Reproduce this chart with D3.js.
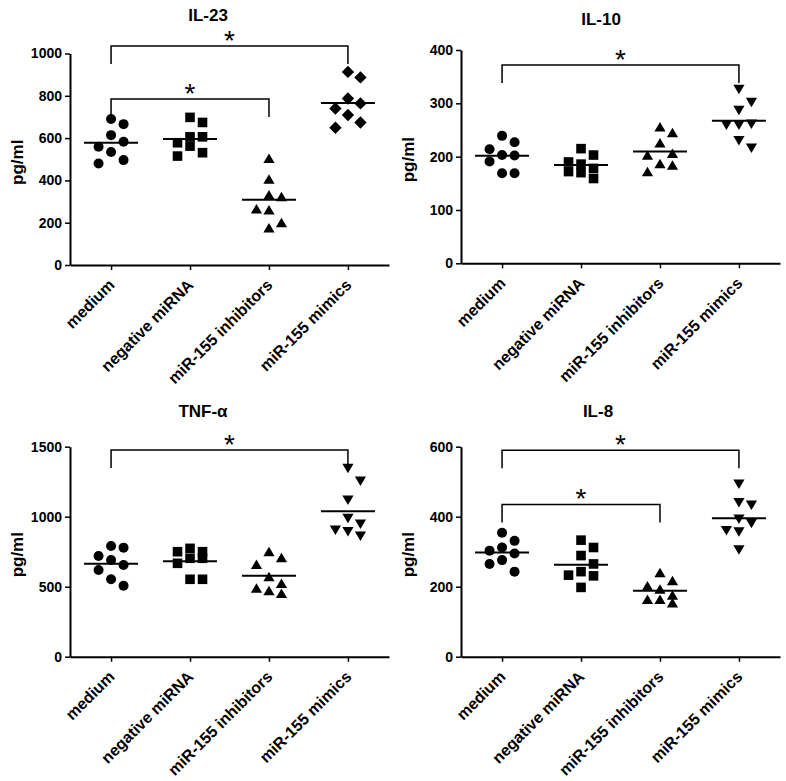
<!DOCTYPE html>
<html>
<head>
<meta charset="utf-8">
<script src="https://cdn.jsdelivr.net/npm/d3@7"></script>
<style>
  html, body { margin: 0; padding: 0; background: #fff; }
  svg { display: block; }
  text { font-family: "Liberation Sans", Arial, sans-serif; fill: #000; }
</style>
</head>
<body>
<script>
// ---------------- DATA ----------------
const categories = ["medium", "negative miRNA", "miR-155 inhibitors", "miR-155 mimics"];

const il23Values = [
  [690, 666, 614, 583, 559, 534, 496, 480],
  [698, 674, 606, 606, 578, 562, 531, 515],
  [504, 406, 331, 323, 265, 260, 200, 176],
  [913, 887, 787, 764, 740, 709, 674, 649]
];
const il10Values = [
  [239, 227, 214, 203, 202, 191, 169, 169],
  [215, 203, 190, 186, 178, 172, 170, 159],
  [256, 245, 226, 206, 203, 187, 184, 172],
  [326, 302, 287, 261, 259, 259, 230, 216]
];
const tnfValues = [
  [791, 779, 719, 691, 655, 619, 553, 507],
  [774, 750, 750, 703, 703, 667, 553, 553],
  [750, 707, 660, 571, 524, 489, 471, 453],
  [1346, 1255, 1119, 989, 948, 905, 893, 862]
];
const il8Values = [
  [354, 331, 312, 303, 295, 276, 265, 243],
  [333, 312, 289, 265, 243, 233, 231, 198],
  [240, 217, 202, 193, 176, 164, 164, 154],
  [493, 440, 433, 393, 381, 360, 357, 305]
];

const il23Ticks = [0, 200, 400, 600, 800, 1000];
const il10Ticks = [0, 100, 200, 300, 400];
const tnfTicks = [0, 500, 1000, 1500];
const il8Ticks = [0, 200, 400, 600];

// significance brackets: [from, to, level (pg/ml)]
const il23Brackets = [["medium", "miR-155 mimics", 1035], ["medium", "miR-155 inhibitors", 785]];
const il10Brackets = [["medium", "miR-155 mimics", 372]];
const tnfBrackets = [["medium", "miR-155 mimics", 1476]];
const il8Brackets = [["medium", "miR-155 mimics", 590], ["medium", "miR-155 inhibitors", 435]];

// ---------------- LAYOUT ----------------
const W = 786, H = 781;
const panels = [
  { title: "IL-23", values: il23Values, ticks: il23Ticks, brackets: il23Brackets,
    ox: 70, y0: 265, y1: 53.5, tx: 208, ty: 21, shapes: ["circle", "square", "up", "diamond"] },
  { title: "IL-10", values: il10Values, ticks: il10Ticks, brackets: il10Brackets,
    ox: 461, y0: 263.3, y1: 50, tx: 601, ty: 25, shapes: ["circle", "square", "up", "down"] },
  { title: "TNF-α", values: tnfValues, ticks: tnfTicks, brackets: tnfBrackets,
    ox: 70, y0: 656.7, y1: 446.7, tx: 203, ty: 417, shapes: ["circle", "square", "up", "down"] },
  { title: "IL-8", values: il8Values, ticks: il8Ticks, brackets: il8Brackets,
    ox: 461, y0: 656.7, y1: 446.7, tx: 598, ty: 417, shapes: ["circle", "square", "up", "down"] }
];

const shapePath = {
  circle: "M5,0A5,5 0 1,1 -5,0A5,5 0 1,1 5,0Z",
  square: "M-4.8,-4.8H4.8V4.8H-4.8Z",
  up: "M0,-4.9L5.6,4.6L-5.6,4.6Z",
  down: "M0,4.9L5.6,-4.6L-5.6,-4.6Z",
  diamond: "M0,-6.2L6.2,0L0,6.2L-6.2,0Z"
};

const svg = d3.select("body").append("svg")
  .attr("width", W).attr("height", H)
  .style("background", "#fff");

function swarm(vals, y, cx) {
  const step = 12.5, gap = 14;
  const placed = [];
  const order = vals.map((v, i) => i).sort((a, b) => vals[b] - vals[a]);
  const out = new Array(vals.length);
  for (const i of order) {
    const py = y(vals[i]);
    let best = null, bestD = -1;
    for (const c of [0, 1, -1]) {
      const same = placed.filter(p => p.c === c);
      const d = same.length ? d3.min(same, p => Math.abs(p.y - py)) : Infinity;
      if (d >= gap) { best = c; bestD = d; break; }
      if (d > bestD) { bestD = d; best = c; }
    }
    placed.push({ c: best, y: py });
    out[i] = { x: cx + best * step, y: py };
  }
  return out;
}

panels.forEach(p => {
  const g = svg.append("g");
  const x = d3.scalePoint().domain(categories).range([p.ox, p.ox + 319]).padding(0.52);
  const y = d3.scaleLinear().domain([0, d3.max(p.ticks)]).range([p.y0, p.y1]);

  // title
  g.append("text").attr("x", p.tx).attr("y", p.ty)
    .attr("text-anchor", "middle").style("font-size", "17px").style("font-weight", "bold")
    .text(p.title);

  // y label
  g.append("text")
    .attr("transform", `translate(${p.ox - 47},${(p.y0 + p.y1) / 2 + 3}) rotate(-90)`)
    .attr("text-anchor", "middle").style("font-size", "17px").style("font-weight", "bold")
    .text("pg/ml");

  // y axis
  const ya = g.append("g").attr("transform", `translate(${p.ox},0)`)
    .call(d3.axisLeft(y).tickValues(p.ticks).tickFormat(d3.format("d"))
      .tickSize(5).tickSizeOuter(0).tickPadding(3));
  ya.selectAll("text").style("font-size", "14px").style("font-weight", "bold").attr("font-family", null);
  ya.select(".domain").attr("stroke-width", 2).attr("stroke", "#000");
  ya.selectAll(".tick line").attr("stroke-width", 1.5).attr("stroke", "#000");

  // x axis
  const xa = g.append("g").attr("transform", `translate(0,${p.y0})`)
    .call(d3.axisBottom(x).tickSize(5).tickSizeOuter(0));
  xa.select(".domain").attr("stroke-width", 2).attr("stroke", "#000");
  xa.selectAll(".tick line").attr("stroke-width", 1.5).attr("stroke", "#000");
  xa.selectAll("text")
    .attr("font-family", null)
    .style("font-size", "16px").style("font-weight", "bold")
    .attr("text-anchor", "end")
    .attr("x", 0).attr("y", 0).attr("dy", 0)
    .attr("transform", "translate(4,21) rotate(-45)");

  // points
  p.values.forEach((vals, gi) => {
    const cx = x(categories[gi]);
    const pts = swarm(vals, y, cx);
    g.append("g").selectAll("path").data(pts).join("path")
      .attr("d", shapePath[p.shapes[gi]])
      .attr("transform", d => `translate(${d.x},${d.y})`)
      .attr("fill", "#000");
    const m = d3.mean(vals);
    g.append("line")
      .attr("x1", cx - 27).attr("x2", cx + 27)
      .attr("y1", y(m)).attr("y2", y(m))
      .attr("stroke", "#000").attr("stroke-width", 2);
  });

  // brackets
  p.brackets.forEach(([a, b, lvl]) => {
    const xa1 = x(a), xb1 = x(b), yy = y(lvl);
    g.append("path")
      .attr("d", `M${xa1},${yy + 18}V${yy}H${xb1}V${yy + 18}`)
      .attr("fill", "none").attr("stroke", "#000").attr("stroke-width", 1.5);
    g.append("text").attr("x", (xa1 + xb1) / 2).attr("y", yy + 4)
      .attr("text-anchor", "middle").style("font-size", "28px")
      .text("*");
  });
});
</script>
</body>
</html>
